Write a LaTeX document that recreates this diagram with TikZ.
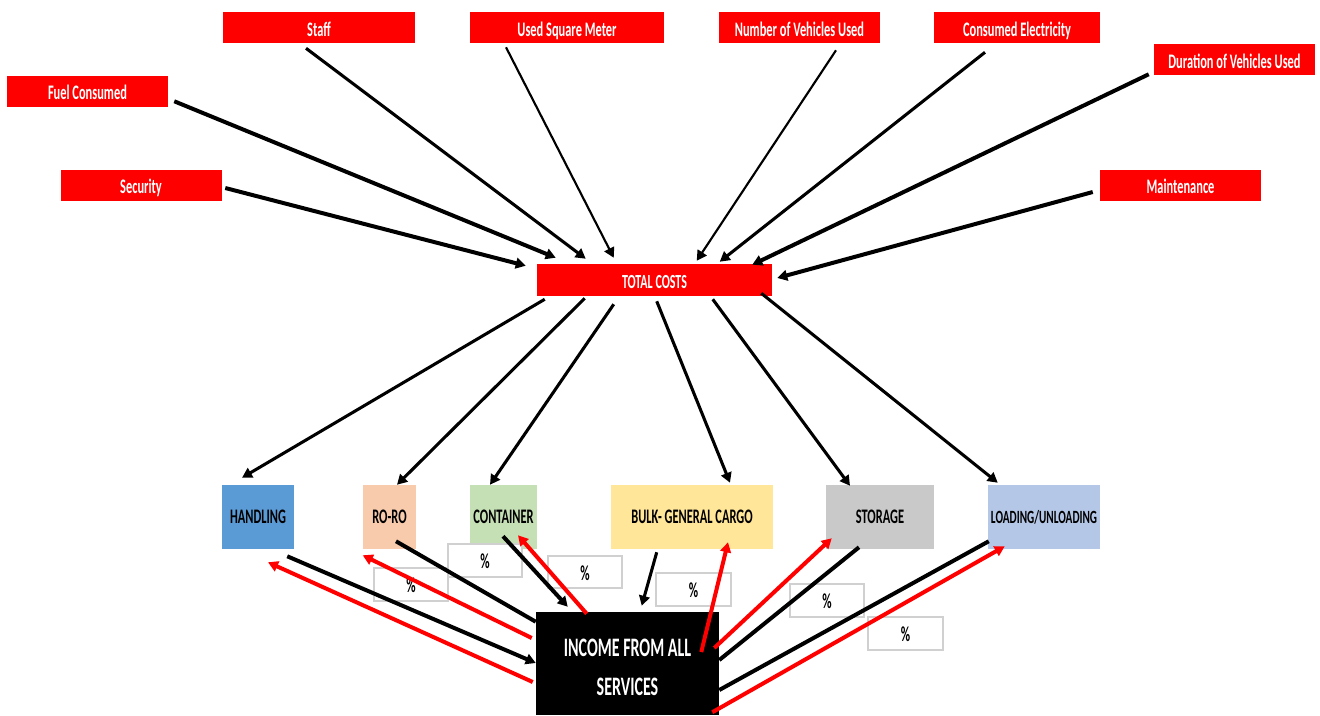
\documentclass[tikz,border=0pt]{standalone}
\usepackage{fontspec}
\setmainfont{Carlito}[FakeStretch=0.6]
\usetikzlibrary{arrows.meta}
\newcommand\pxu{0.75pt}
\definecolor{cHand}{HTML}{5B9BD5}
\definecolor{cRoro}{HTML}{F8CBAD}
\definecolor{cCont}{HTML}{C5E0B4}
\definecolor{cBulk}{HTML}{FFE699}
\definecolor{cStor}{HTML}{C9C9C9}
\definecolor{cLoad}{HTML}{B4C7E7}
\definecolor{cPct}{HTML}{D0D0D0}
\begin{document}
\begin{tikzpicture}[x=0.75pt,y=-0.75pt,
  lbl/.style={inner sep=0pt, font=\bfseries\fontsize{15.5}{18}\selectfont},
  redbox/.style={lbl, fill=red, text=white, minimum height={31*\pxu}, text height=13pt, text depth=0pt},
  svcbox/.style={lbl, text=black, minimum height={64*\pxu}},
  pctbox/.style={draw=cPct, line width=1.5pt, fill=white, inner sep=0pt,
    minimum height={33*\pxu}, text height=12pt, text depth=0pt, font=\bfseries\fontsize{16}{18}\selectfont},
  tip/.style={-{Triangle[length=7.5pt,width=8pt]}},
  thick4/.style={line width=3pt},
  thick3/.style={line width=2.3pt},
  thick2/.style={line width=1.6pt},
  blk/.style={draw=black, line width=3pt},
  rd/.style={draw=red, line width=3pt, tip},
]
\useasboundingbox (0,0) rectangle (1320,715);

% cost drivers
\node[redbox, minimum width={192*\pxu}] (staff) at (319,27.5) {Staff};
\node[redbox, minimum width={194*\pxu}] (usq) at (567,27.5) {Used Square Meter};
\node[redbox, minimum width={161*\pxu}] (nveh) at (799.5,27.5) {Number of Vehicles Used};
\node[redbox, minimum width={166*\pxu}] (cel) at (1017,27.5) {Consumed Electricity};
\node[redbox, minimum width={161*\pxu}] (dur) at (1234.5,59.5) {Duration of Vehicles Used};
\node[redbox, minimum width={161*\pxu}] (fuel) at (87.5,91) {Fuel Consumed};
\node[redbox, minimum width={161*\pxu}] (sec) at (141,185) {Security};
\node[redbox, minimum width={161*\pxu}] (maint) at (1180.5,185) {Maintenance};
\node[redbox, minimum width={235*\pxu}, minimum height={32*\pxu}, font=\bfseries\fontsize{15}{18}\selectfont] (total) at (654.5,280) {TOTAL COSTS};

% services
\node[svcbox, fill=cHand, minimum width={72*\pxu}] (hand) at (258,517) {HANDLING};
\node[svcbox, fill=cRoro, minimum width={53*\pxu}] (roro) at (389.5,517) {RO-RO};
\node[svcbox, fill=cCont, minimum width={67*\pxu}] (cont) at (503.5,517) {CONTAINER};
\node[svcbox, fill=cBulk, minimum width={162*\pxu}] (bulk) at (692,517) {BULK- GENERAL CARGO};
\node[svcbox, fill=cStor, minimum width={108*\pxu}] (stor) at (880,517) {STORAGE};
\node[svcbox, fill=cLoad, minimum width={112*\pxu}, font=\bfseries\fontsize{14}{16}\selectfont] (load) at (1044,517) {LOADING/UNLOADING};

% income
\node[fill=black, inner sep=0pt, minimum width={183*\pxu}, minimum height={103*\pxu}] (income) at (627.5,663.5) {};
\node[text=white, align=center, inner sep=0pt, font=\bfseries\fontsize{20}{29.25}\selectfont] (inclbl) at (627.5,667.5) {INCOME FROM ALL\\SERVICES};

% percentage boxes
\node[pctbox, minimum width={74*\pxu}] (p2) at (485,560.5) {\%};
\node[pctbox, minimum width={74*\pxu}] (p1) at (411,584.5) {\%};
\node[pctbox, minimum width={74*\pxu}, minimum height={32*\pxu}] (p3) at (585,572) {\%};
\node[pctbox, minimum width={75*\pxu}] (p4) at (693.5,589.5) {\%};
\node[pctbox, minimum width={74*\pxu}] (p5) at (827,600.5) {\%};
\node[pctbox, minimum width={75*\pxu}] (p6) at (905.5,633.5) {\%};

% drivers -> total costs
\draw[thick4, tip] ([shift={(6,-5.5)}]fuel.south east) -- ([shift={(19,-6)}]total.north west);
\draw[thick3, tip] ([shift={(-13,5)}]staff.south) -- ([shift={(49,-5)}]total.north west);
\draw[thick2, tip] ([shift={(-61,4)}]usq.south) -- ([shift={(77,-6)}]total.north west);
\draw[thick4, tip] ([shift={(3.5,3)}]sec.east) -- ([shift={(-11,2)}]total.north west);
\draw[thick2, tip] ([shift={(36.5,7)}]nveh.south) -- ([shift={(160,-3)}]total.north west);
\draw[thick3, tip] ([shift={(-32,9)}]cel.south) -- ([shift={(183,-2)}]total.north west);
\draw[thick4, tip] ([shift={(-5,-1)}]dur.south west) -- ([shift={(-20,1)}]total.north east);
\draw[thick4, tip] ([shift={(-7,7)}]maint.west) -- ([shift={(5,-2)}]total.east);

% total costs -> services
\draw[thick3, tip] ([shift={(8,3)}]total.south west) -- ([shift={(-16,-7)}]hand.north);
\draw[thick3, tip] ([shift={(48,2)}]total.south west) -- ([shift={(7.5,0)}]roro.north);
\draw[thick3, tip] ([shift={(77,8)}]total.south west) -- ([shift={(-13.5,0)}]cont.north);
\draw[thick3, tip] ([shift={(120,5)}]total.south west) -- ([shift={(38,-2)}]bulk.north);
\draw[thick3, tip] ([shift={(176,3)}]total.south west) -- ([shift={(-30,1)}]stor.north);
\draw[thick3, tip] ([shift={(-11,-3)}]total.south east) -- ([shift={(10,-2)}]load.north west);

% services -> income (black)
\draw[blk, tip] ([shift={(-7,7)}]hand.south east) -- ([shift={(0,-0.5)}]income.west);
\draw[blk] ([shift={(6.5,-8)}]roro.south) -- ([shift={(0,10)}]income.north west);
\draw[blk, tip] ([shift={(-0.5,-13)}]cont.south) -- ([shift={(32,-5)}]income.north west);
\draw[blk, line width=2.3pt, tip] ([shift={(46,3)}]bulk.south west) -- ([shift={(106,-6)}]income.north west);
\draw[blk] ([shift={(-21,-2)}]stor.south) -- ([shift={(0,-3.5)}]income.east);
\draw[blk] ([shift={(1,-8)}]load.south west) -- ([shift={(0,26.5)}]income.east);

% income -> services (red)
\draw[rd] ([shift={(-3,18.5)}]income.west) -- ([shift={(10,13)}]hand.south);
\draw[rd] ([shift={(-4,-25.5)}]income.west) -- ([shift={(0,6)}]roro.south west);
\draw[rd] ([shift={(51,2)}]income.north west) -- ([shift={(14.5,-14)}]cont.south);
\draw[rd] ([shift={(-18,-11.5)}]income.east) -- ([shift={(36,-7)}]bulk.south);
\draw[rd] ([shift={(-5,-15.5)}]income.east) -- ([shift={(6,-11)}]stor.south west);
\draw[rd] ([shift={(-7,-3)}]income.south east) -- ([shift={(17,-3)}]load.south west);
\end{tikzpicture}
\end{document}
